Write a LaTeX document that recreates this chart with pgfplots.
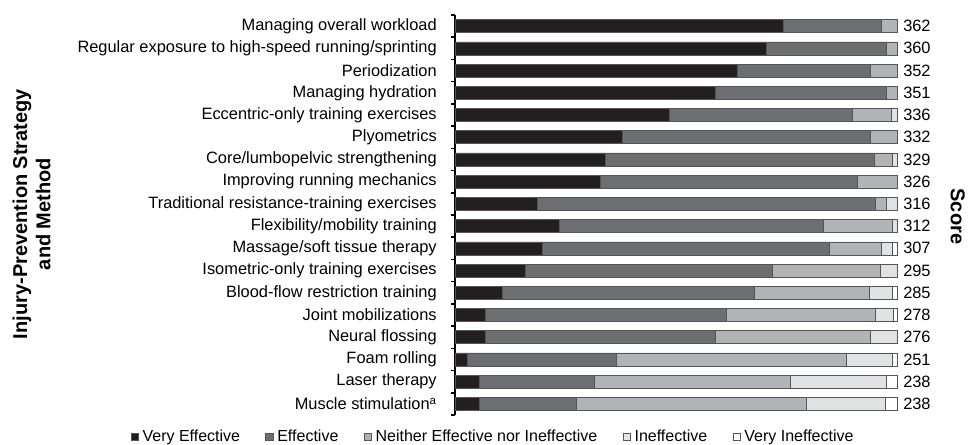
\documentclass[border=0pt]{standalone}
\usepackage{pgfplots}
\pgfplotsset{compat=1.18}
\usepackage{pgfplotstable}
\usepackage{fontspec}
\setmainfont{Liberation Sans}
\definecolor{cVE}{HTML}{231F20}
\definecolor{cE}{HTML}{6D6E71}
\definecolor{cN}{HTML}{B1B3B6}
\definecolor{cI}{HTML}{E1E2E3}
\definecolor{cVI}{HTML}{FFFFFF}
\definecolor{cEdge}{HTML}{555555}
\tikzset{scorelab/.style={anchor=west, inner sep=0pt, xshift=4.5pt, font=\fontsize{12.3}{14}\selectfont}}

\pgfplotstableread{
idx ve e n i vi
0 74.2 22.2 3.6 0 0
1 70.4 27.3 2.3 0 0
2 63.8 30.1 6.1 0 0
3 58.8 38.9 2.3 0 0
4 48.4 41.4 9.0 1.2 0
5 37.9 56.0 6.1 0 0
6 34.1 60.8 4.0 1.1 0
7 32.8 58.3 8.9 0 0
8 18.6 76.4 2.6 2.4 0
9 23.6 59.8 15.5 1.1 0
10 19.8 64.8 11.8 2.6 1.0
11 15.9 55.8 24.6 3.7 0
12 10.6 57.2 25.9 5.2 1.1
13 6.8 54.5 33.8 4.0 0.9
14 6.8 52.2 35.0 6.0 0
15 2.8 33.7 52.1 10.3 1.1
16 5.5 26.1 44.2 21.9 2.3
17 5.5 21.9 52.0 17.9 2.7
}\tbl

\begin{document}
\begin{tikzpicture}[x=1pt,y=1pt]
\useasboundingbox (-341.25,-21.75) rectangle (384.75,311.25);
\begin{axis}[
  at={(0,0)}, anchor=south west,
  scale only axis, width=331.5pt, height=300pt,
  xbar stacked, bar width=9.75pt,
  xmin=0, xmax=100, ymin=-0.5, ymax=17.5, y dir=reverse,
  axis y line*=left, axis x line=none,
  ytick={0,...,17},
  yticklabels={Managing overall workload,
    Regular exposure to high-speed running/sprinting,
    Periodization,
    Managing hydration,
    Eccentric-only training exercises,
    Plyometrics,
    Core/lumbopelvic strengthening,
    Improving running mechanics,
    Traditional resistance-training exercises,
    Flexibility/mobility training,
    Massage/soft tissue therapy,
    Isometric-only training exercises,
    Blood-flow restriction training,
    Joint mobilizations,
    Neural flossing,
    Foam rolling,
    Laser therapy,
    Muscle stimulation$^{\mathrm{a}}$},
  major tick length=0pt,
  minor ytick={-0.5,0.5,...,17.5},
  minor tick length=3pt,
  tick align=outside,
  y axis line style={line width=1.1pt, black},
  minor tick style={line width=1.1pt, black},
  yticklabel style={font=\fontsize{12.3}{14}\selectfont, inner sep=0pt, xshift=-13.5pt},
  clip=false,
  legend style={at={(0.087,-0.055)}, anchor=center,
    draw=none, fill=none, font=\fontsize{12}{14}\selectfont, legend columns=-1,
    /tikz/every even column/.append style={column sep=17pt},
    /tikz/every odd column/.append style={column sep=1pt}},
  legend image code/.code={\draw[#1] (0cm,-0.095cm) rectangle (0.19cm,0.095cm);},
  every axis plot/.append style={draw=cEdge, line width=0.5pt},
]
\addplot[fill=cVE] table[x=ve, y=idx]{\tbl};
\addplot[fill=cE] table[x=e, y=idx]{\tbl};
\addplot[fill=cN] table[x=n, y=idx]{\tbl};
\addplot[fill=cI] table[x=i, y=idx]{\tbl};
\addplot[fill=cVI] table[x=vi, y=idx]{\tbl};
\legend{Very Effective, Effective, Neither Effective nor Ineffective, Ineffective, Very Ineffective}
\node[scorelab] at (axis cs:100,0) {362};
\node[scorelab] at (axis cs:100,1) {360};
\node[scorelab] at (axis cs:100,2) {352};
\node[scorelab] at (axis cs:100,3) {351};
\node[scorelab] at (axis cs:100,4) {336};
\node[scorelab] at (axis cs:100,5) {332};
\node[scorelab] at (axis cs:100,6) {329};
\node[scorelab] at (axis cs:100,7) {326};
\node[scorelab] at (axis cs:100,8) {316};
\node[scorelab] at (axis cs:100,9) {312};
\node[scorelab] at (axis cs:100,10) {307};
\node[scorelab] at (axis cs:100,11) {295};
\node[scorelab] at (axis cs:100,12) {285};
\node[scorelab] at (axis cs:100,13) {278};
\node[scorelab] at (axis cs:100,14) {276};
\node[scorelab] at (axis cs:100,15) {251};
\node[scorelab] at (axis cs:100,16) {238};
\node[scorelab] at (axis cs:100,17) {238};
\end{axis}
\node[rotate=90, align=center, font=\bfseries\fontsize{15}{17.5}\selectfont] at (-317.6,150.75) {Injury-Prevention Strategy\\and Method};
\node[rotate=-90, font=\bfseries\fontsize{15}{17.5}\selectfont] at (377,149) {Score};
\end{tikzpicture}
\end{document}
